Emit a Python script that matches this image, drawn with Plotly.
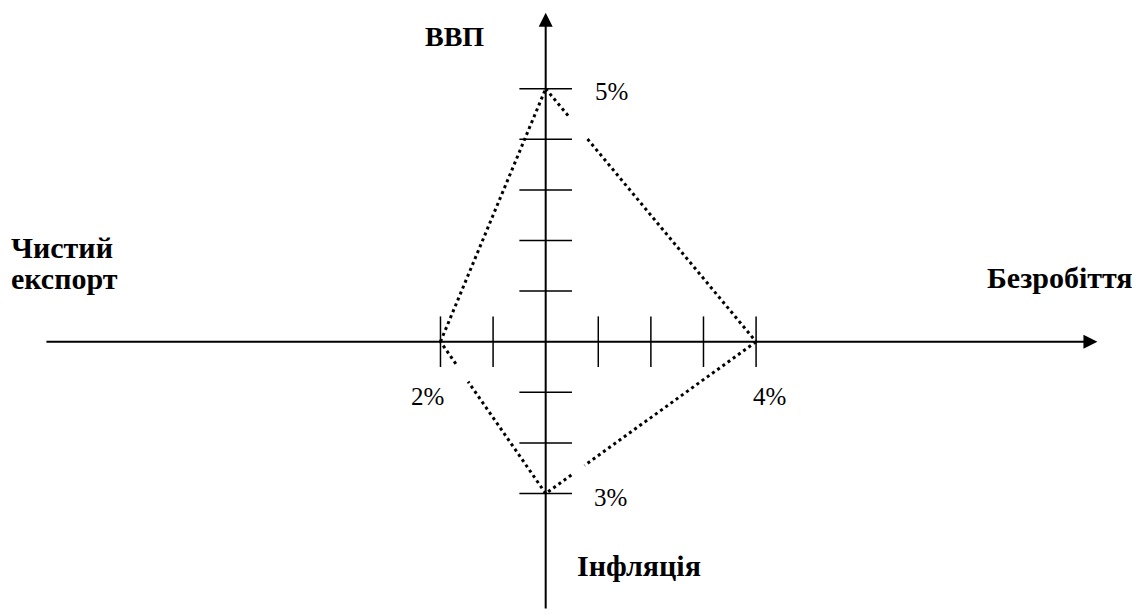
import plotly.graph_objects as go

# ---- data (percent values of the "magic square") ----
indicators = ["ВВП", "Безробіття", "Інфляція", "Чистий експорт"]
values = [5, 4, 3, 2]          # GDP (up), unemployment (right), inflation (down), net export (left)
value_labels = ["5%", "4%", "3%", "2%"]

gdp, unemp, infl, netexp = values

# vertices of the polygon, in axis units
vx = [0, unemp, 0, -netexp]
vy = [gdp, 0, -infl, 0]

# small breaks in the dotted outline (fraction of each edge)
edge_gaps = [(0.114, 0.199), (0.815, 0.878), (0.737, 0.854), None]

# tick positions derived from the data
xticks = [v for v in range(-netexp, unemp + 1) if v != 0]
yticks = [v for v in range(-infl, gdp + 1) if v != 0]

# ---- layout constants ----
X_RANGE = [-10.222, 11.451]
Y_RANGE = [-5.579, 6.595]
H_AXIS = (-9.52, 10.49)
V_AXIS = (-5.30, 6.50)
TICK_HALF = 0.5
FONT = "Liberation Serif, Times New Roman, serif"

fig = go.Figure()

# dotted outline with breaks
px, py = [], []
n = len(vx)
for i in range(n):
    x0, y0 = vx[i], vy[i]
    x1, y1 = vx[(i + 1) % n], vy[(i + 1) % n]
    g = edge_gaps[i]
    if g is None:
        px += [x0, x1, None]
        py += [y0, y1, None]
    else:
        a, b = g
        px += [x0, x0 + (x1 - x0) * a, None, x0 + (x1 - x0) * b, x1, None]
        py += [y0, y0 + (y1 - y0) * a, None, y0 + (y1 - y0) * b, y1, None]

fig.add_trace(go.Scatter(x=px, y=py, mode="lines",
                         line=dict(color="black", width=3, dash="3px,3.4px"),
                         hoverinfo="skip", showlegend=False))

# tick marks
shapes = []
for t in xticks:
    shapes.append(dict(type="line", xref="x", yref="y", x0=t, x1=t,
                       y0=-TICK_HALF, y1=TICK_HALF, line=dict(color="black", width=1.5)))
for t in yticks:
    shapes.append(dict(type="line", xref="x", yref="y", y0=t, y1=t,
                       x0=-TICK_HALF, x1=TICK_HALF, line=dict(color="black", width=1.5)))

annotations = []
# axes with arrowheads
annotations.append(dict(x=H_AXIS[1], y=0, ax=H_AXIS[0], ay=0, xref="x", yref="y",
                        axref="x", ayref="y", text="", showarrow=True, arrowhead=2,
                        arrowsize=1.4, arrowwidth=2, arrowcolor="black", standoff=0, startstandoff=0))
annotations.append(dict(x=0, y=V_AXIS[1], ax=0, ay=V_AXIS[0], xref="x", yref="y",
                        axref="x", ayref="y", text="", showarrow=True, arrowhead=2,
                        arrowsize=1.4, arrowwidth=2, arrowcolor="black", standoff=0, startstandoff=0))

# value labels next to vertices
num_font = dict(family=FONT, size=25, color="black")
label_pos = [
    dict(xanchor="left", xshift=47, yshift=-3),     # 5%
    dict(xanchor="center", xshift=13, yshift=-55),  # 4%
    dict(xanchor="left", xshift=46, yshift=-4),     # 3%
    dict(xanchor="center", xshift=-13, yshift=-55), # 2%
]
for i in range(4):
    annotations.append(dict(x=vx[i], y=vy[i], xref="x", yref="y", text=value_labels[i],
                            showarrow=False, font=num_font, yanchor="middle", **label_pos[i]))

# indicator names
bold_font = dict(family=FONT, size=30, color="black")
annotations.append(dict(x=-1.743, y=6.04, text="<b>%s</b>" % indicators[0], showarrow=False,
                        font=dict(family=FONT, size=28, color="black"), xanchor="center", yanchor="middle"))
annotations.append(dict(x=9.78, y=1.26, text="<b>%s</b>" % indicators[1], showarrow=False,
                        font=bold_font, xanchor="center", yanchor="middle"))
annotations.append(dict(x=0.56, y=-4.43, text="<b>%s</b>" % indicators[2], showarrow=False,
                        font=bold_font, xanchor="left", yanchor="middle"))
w1, w2 = indicators[3].split(" ")
annotations.append(dict(x=-10.2, y=1.87, text="<b>%s</b>" % w1, showarrow=False,
                        font=bold_font, xanchor="left", yanchor="middle"))
annotations.append(dict(x=-10.2, y=1.25, text="<b>%s</b>" % w2, showarrow=False,
                        font=bold_font, xanchor="left", yanchor="middle"))

fig.update_layout(
    width=1140, height=616,
    margin=dict(l=0, r=0, t=0, b=0),
    paper_bgcolor="white", plot_bgcolor="white",
    font=dict(family=FONT),
    xaxis=dict(range=X_RANGE, visible=False, fixedrange=True),
    yaxis=dict(range=Y_RANGE, visible=False, fixedrange=True),
    shapes=shapes, annotations=annotations, showlegend=False,
)

fig.write_html("out.html")
